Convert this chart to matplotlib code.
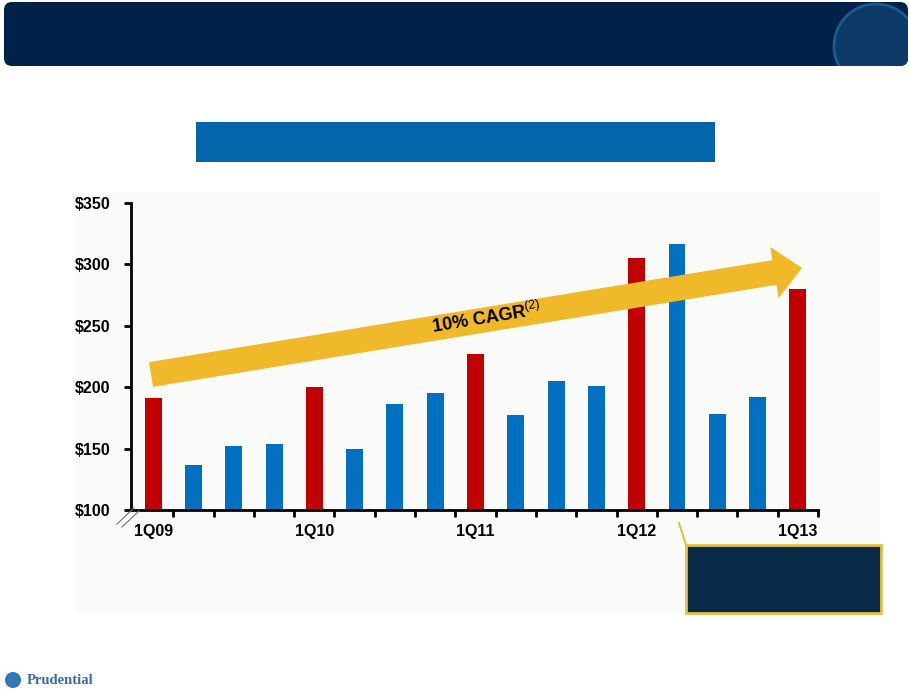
import numpy as np
import matplotlib
matplotlib.use('Agg')
import matplotlib.pyplot as plt
from matplotlib.patches import FancyBboxPatch, Rectangle, FancyArrow, Circle
from matplotlib.transforms import Affine2D

plt.rcParams['font.family'] = ['Liberation Sans', 'DejaVu Sans']
plt.rcParams['mathtext.fontset'] = 'custom'
plt.rcParams['mathtext.rm'] = 'Liberation Sans'
plt.rcParams['mathtext.bf'] = 'Liberation Sans:bold'

# 季度数据
quarters = ['1Q09', '2Q09', '3Q09', '4Q09', '1Q10', '2Q10', '3Q10', '4Q10',
            '1Q11', '2Q11', '3Q11', '4Q11', '1Q12', '2Q12', '3Q12', '4Q12', '1Q13']
values = [191, 137, 152, 154, 200, 150, 186, 195,
          227, 177, 205, 201, 305, 317, 178, 192, 280]
is_q1 = [q.startswith('1Q') for q in quarters]
y_ticks = [100, 150, 200, 250, 300, 350]
y_labels = ['$100', '$150', '$200', '$250', '$300', '$350']
cagr_text = r'10% CAGR$^{(2)}$'

RED = '#C00000'
BLUE = '#0070C0'
NAVY = '#012248'
GOLD = '#F0B92A'

W, H = 910, 693
fig = plt.figure(figsize=(W / 100, H / 100), dpi=100)
fig.patch.set_facecolor('white')

# 像素坐标 -> 画布坐标
px = Affine2D().scale(1 / W, -1 / H).translate(0, 1) + fig.transFigure

# 顶部标题栏
header = FancyBboxPatch((4, 2), 904, 64, boxstyle='round,pad=0,rounding_size=8',
                        transform=px, facecolor=NAVY, edgecolor='none')
fig.patches.append(header)
logo = Circle((876, 46), 42, transform=px, facecolor='#0b3a68', edgecolor='#1c5a8f',
              linewidth=2)
fig.patches.append(logo)
logo.set_clip_path(header)
# 蓝色副标题栏
fig.patches.append(Rectangle((196, 122), 519, 40, transform=px,
                             facecolor='#0565AA', edgecolor='none'))
# 图表背景
fig.patches.append(Rectangle((75, 192), 805, 420, transform=px,
                             facecolor='#FAFBF9', edgecolor='none', zorder=0.5))

ax = fig.add_axes([131 / W, (H - 510) / H, (818 - 131) / W, (510 - 203) / H])
ax.set_zorder(2)
ax.set_facecolor('none')
x = np.arange(len(quarters))
colors = [RED if q1 else BLUE for q1 in is_q1]
ax.bar(x, values, width=0.42, color=colors, bottom=0, zorder=2)

ax.set_xlim(-0.55, len(quarters) - 0.5)
ax.set_ylim(100, 350)
ax.set_yticks(y_ticks)
ax.set_yticklabels(y_labels, fontsize=11.5, fontweight='bold')
ax.set_xticks([i for i in x if is_q1[i]])
ax.set_xticklabels([q for q, f in zip(quarters, is_q1) if f], fontsize=11.5, fontweight='bold')
ax.set_xticks(list(x[:-1] + 0.5) + [len(quarters) - 0.5], minor=True)
ax.tick_params(axis='x', which='major', length=0, pad=10)
ax.tick_params(axis='x', which='minor', length=5, width=2, direction='out')
ax.tick_params(axis='y', length=5, width=2, direction='out', pad=10)
for s in ['top', 'right']:
    ax.spines[s].set_visible(False)
ax.spines['left'].set_linewidth(2)
ax.spines['bottom'].set_linewidth(2)

# 断轴标记
for off in [0, 5]:
    fig.lines.append(plt.Line2D([117 + off, 134 + off], [524 + off * 0.6, 508 + off * 0.6],
                                transform=px, color='#707070', linewidth=0.8, zorder=3))

# 增长箭头（单独一层，盖在柱子上面）
top = fig.add_axes([0, 0, 1, 1])
top.set_zorder(10)
top.set_facecolor('none')
top.axis('off')
top.set_xlim(0, W)
top.set_ylim(H, 0)
tail = np.array([151, 374.5])
tip = np.array([802, 268])
d = tip - tail
top.add_patch(FancyArrow(tail[0], tail[1], d[0], d[1], width=25, head_width=52,
                         head_length=28, length_includes_head=True,
                         facecolor=GOLD, edgecolor='none'))
ang = np.degrees(np.arctan2(d[1], d[0]))
top.text(486, 318, cagr_text, rotation=-ang, ha='center', va='center',
         fontsize=13, fontweight='bold', color='black', rotation_mode='anchor')

# 右下角说明框
top.plot([679, 686], [523, 545], color='#E8C040', linewidth=1.5)
top.add_patch(Rectangle((686, 545), 195, 68, facecolor='#082A48',
                        edgecolor='#E8C040', linewidth=2))

# 页脚标志
top.add_patch(Circle((13, 680), 8, facecolor='#2F78B8', edgecolor='none'))
top.text(27, 681, 'Prudential', fontsize=10.5, fontweight='bold',
         family='Liberation Serif', color='#2F6FAE', va='center', ha='left')

plt.savefig('out.png', dpi=100)
